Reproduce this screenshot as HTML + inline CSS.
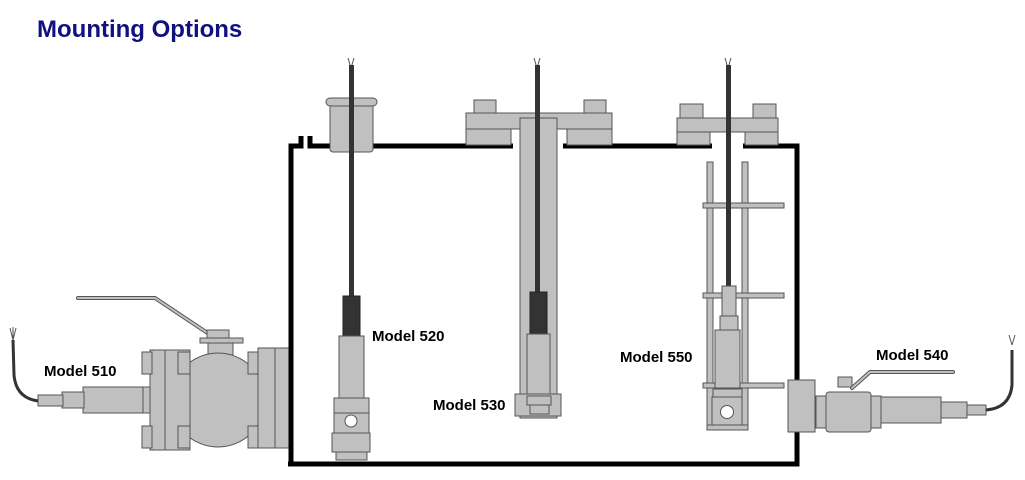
<!DOCTYPE html>
<html><head><meta charset="utf-8"><style>
body{margin:0;background:#fff;width:1025px;height:480px;overflow:hidden}
svg{display:block}
text{font-family:"Liberation Sans",Arial,sans-serif;font-weight:bold}
</style></head><body>
<svg width="1025" height="480" viewBox="0 0 1025 480">
<text x="37" y="37" font-size="24" fill="#10107e">Mounting Options</text>
<g stroke="#555" stroke-width="1" fill="#c0c0c0">
<!-- Model 510 valve -->
<path d="M78,298 L155,298 L215,338" fill="none" stroke="#555" stroke-width="4" stroke-linecap="round"/>
<path d="M78,298 L155,298 L215,338" fill="none" stroke="#c0c0c0" stroke-width="2" stroke-linecap="round"/>
<rect x="207" y="330" width="22" height="8"/>
<rect x="200" y="338" width="43" height="5"/>
<rect x="208" y="343" width="25" height="15"/>
<circle cx="218" cy="400" r="47"/>
<rect x="150" y="350" width="40" height="100"/>
<line x1="165" y1="350" x2="165" y2="450"/>
<rect x="142" y="352" width="10" height="22"/><rect x="142" y="426" width="10" height="22"/>
<rect x="178" y="352" width="12" height="22"/><rect x="178" y="426" width="12" height="22"/>
<rect x="248" y="352" width="12" height="22"/><rect x="248" y="426" width="12" height="22"/>
<rect x="258" y="348" width="32" height="100"/>
<line x1="275" y1="348" x2="275" y2="448"/>
<rect x="142" y="387" width="8" height="26"/>
<rect x="83" y="387" width="60" height="26"/>
<rect x="62" y="392" width="22" height="16"/>
<rect x="38" y="395" width="25" height="11"/>
<path d="M38,401 Q16,398 14,375 L13,340" fill="none" stroke="#333" stroke-width="3"/>
<path d="M13,340 l-3,-12 M13,340 l3,-12 M13,340 l0,-13" fill="none" stroke="#555"/>
<!-- tank -->
<g stroke="#000" stroke-width="5" fill="none">
<path d="M291,464 L291,146 L301,146 L301,136"/>
<path d="M310,136 L310,146 L513,146"/>
<path d="M563,146 L712,146"/>
<path d="M743,146 L797,146 L797,464 L288,464"/>
</g>
<!-- wire tips -->
<path d="M351,68 l-3,-10 M351,68 l3,-10 M537,68 l-3,-10 M537,68 l3,-10 M728,68 l-3,-10 M728,68 l3,-10" fill="none" stroke="#555"/>
<!-- Model 520 -->
<rect x="330" y="102" width="43" height="50" rx="3"/>
<rect x="326" y="98" width="51" height="8" rx="4"/>
<rect x="349" y="65" width="5" height="233" fill="#333" stroke="none"/>
<rect x="343" y="296" width="17" height="40" fill="#333" stroke="#222"/>
<rect x="339" y="336" width="25" height="62"/>
<rect x="334" y="398" width="35" height="15"/>
<rect x="334" y="413" width="35" height="20"/>
<circle cx="351" cy="421" r="6" fill="#fff"/>
<rect x="332" y="433" width="38" height="19"/>
<rect x="336" y="452" width="31" height="8"/>
<!-- Model 530 -->
<rect x="466" y="113" width="146" height="16"/>
<rect x="466" y="129" width="45" height="16"/>
<rect x="567" y="129" width="45" height="16"/>
<rect x="474" y="100" width="22" height="13"/><rect x="584" y="100" width="22" height="13"/>
<rect x="520" y="118" width="37" height="300"/>
<rect x="535" y="65" width="5" height="228" fill="#333" stroke="none"/>
<rect x="530" y="292" width="17" height="42" fill="#333" stroke="#222"/>
<rect x="527" y="334" width="23" height="62"/>
<rect x="515" y="394" width="46" height="22"/>
<rect x="527" y="396" width="24" height="9"/>
<rect x="530" y="405" width="19" height="9"/>
<!-- Model 550 -->
<rect x="677" y="118" width="101" height="14"/>
<rect x="677" y="132" width="33" height="13"/><rect x="745" y="132" width="33" height="13"/>
<rect x="680" y="104" width="23" height="14"/><rect x="753" y="104" width="23" height="14"/>
<rect x="707" y="162" width="6" height="266"/><rect x="742" y="162" width="6" height="266"/>
<rect x="703" y="203" width="81" height="5"/><rect x="703" y="293" width="81" height="5"/><rect x="703" y="383" width="81" height="5"/>
<rect x="726" y="65" width="5" height="222" fill="#333" stroke="none"/>
<rect x="722" y="286" width="14" height="30"/>
<rect x="720" y="316" width="18" height="14"/>
<rect x="715" y="330" width="25" height="58"/>
<rect x="713" y="389" width="29" height="8"/>
<rect x="712" y="397" width="30" height="28"/>
<circle cx="727" cy="412" r="6.5" fill="#fff"/>
<rect x="707" y="425" width="41" height="5"/>
<!-- Model 540 -->
<rect x="788" y="380" width="27" height="52"/>
<rect x="816" y="396" width="10" height="32"/>
<rect x="826" y="392" width="45" height="40" rx="3"/>
<rect x="871" y="396" width="10" height="32"/>
<rect x="838" y="377" width="14" height="10"/>
<path d="M852,388 L870,372 L953,372" fill="none" stroke="#555" stroke-width="4" stroke-linecap="round"/>
<path d="M852,388 L870,372 L953,372" fill="none" stroke="#c0c0c0" stroke-width="2" stroke-linecap="round"/>
<rect x="881" y="397" width="60" height="26"/>
<rect x="941" y="402" width="26" height="16"/>
<rect x="967" y="405" width="19" height="10"/>
<path d="M986,410 Q1010,408 1012,385 L1012,350" fill="none" stroke="#333" stroke-width="3"/>
<path d="M1012,345 l-3,-10 M1012,345 l3,-10" fill="none" stroke="#555"/>
</g>
<g font-size="15" fill="#000">
<text x="44" y="376">Model 510</text>
<text x="372" y="341">Model 520</text>
<text x="433" y="410">Model 530</text>
<text x="620" y="362">Model 550</text>
<text x="876" y="360">Model 540</text>
</g>
</svg>
</body></html>
